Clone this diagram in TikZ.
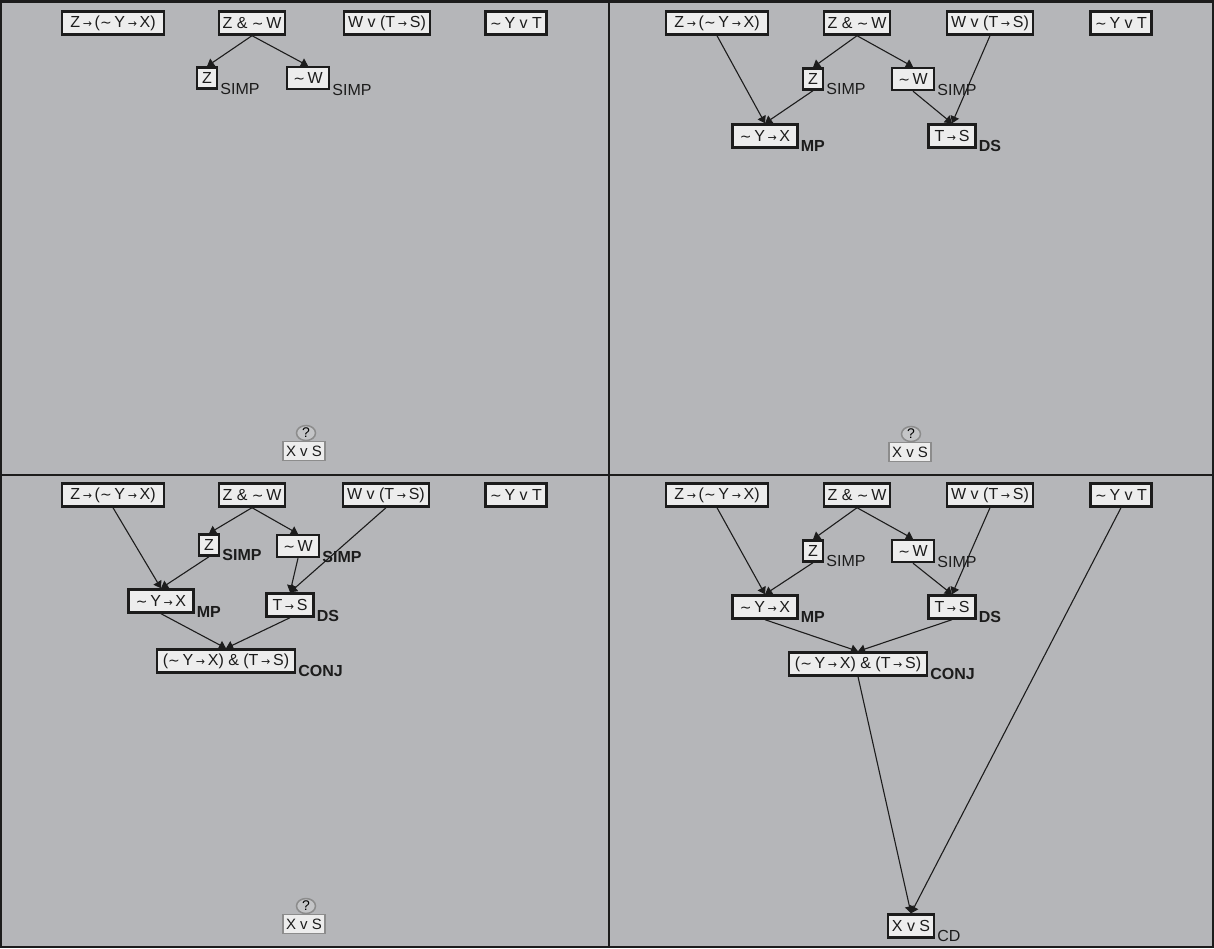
\documentclass[tikz,border=0pt]{standalone}
\usepackage{fontspec}
\setmainfont{Liberation Sans}
\newfontfamily\symf{DejaVu Sans}
\usetikzlibrary{arrows.meta,shapes.geometric}
\newcommand\rarr{\,{\symf\fontsize{11pt}{11pt}\selectfont →}\,}
\newcommand\tld{{\symf\fontsize{14pt}{14pt}\selectfont ∼}\,}
\definecolor{bg}{HTML}{B5B6B9}
\definecolor{nodefill}{HTML}{EDEDED}
\definecolor{ink}{HTML}{1C1C1C}
\definecolor{goalgray}{HTML}{8C8C8C}
\begin{document}
\begin{tikzpicture}[x=1pt,y=-1pt,
  prop/.style={draw=ink, line width=2.4pt, fill=nodefill, minimum height=23pt, inner sep=0pt, text=ink,
    font=\fontsize{16pt}{16pt}\selectfont},
  goalbox/.style={draw=goalgray, line width=1.8pt, fill=nodefill, minimum height=19pt, minimum width=42pt,
    inner sep=0pt, text=ink, font=\fontsize{15pt}{15pt}\selectfont},
  qmark/.style={ellipse, draw=goalgray, line width=1.5pt, fill=bg!80!white, minimum width=19pt, minimum height=15pt, inner sep=0pt,
    font=\fontsize{14pt}{14pt}\selectfont},
  lbl/.style={anchor=base west, inner sep=0pt, text=ink, font=\fontsize{16pt}{16pt}\selectfont},
  blbl/.style={lbl, font=\fontsize{16pt}{16pt}\selectfont\bfseries},
  conn/.style={draw=ink, line width=1.1pt, -{Triangle[length=7pt,width=9pt]}},
  wa/.style={minimum width=102pt}, wb/.style={minimum width=66pt},
  wc/.style={minimum width=86pt}, wd/.style={minimum width=61pt},
  wz/.style={minimum width=20pt, minimum height=21pt}, ww/.style={minimum width=42pt, minimum height=22pt},
  wm/.style={minimum width=65pt}, wt/.style={minimum width=47pt},
  wk/.style={minimum width=138pt}, wx/.style={minimum width=46pt}
]
\useasboundingbox (0,0) rectangle (1214,948);
\fill[bg] (0,0) rectangle (1214,948);
\draw[ink, line width=2.5pt] (1,1.5) rectangle (1213,947);
\draw[ink, line width=2pt] (608.5,0) -- (608.5,948);
\draw[ink, line width=2pt] (0,474.5) -- (1214,474.5);

% ---------------- Panel 1 ----------------
\node[prop,wa] (p1a) at (113,23) {Z\rarr(\tld Y\rarr X)};
\node[prop,wb] (p1b) at (252,23) {Z \& \tld W};
\node[prop,wc] (p1c) at (387,23) {W v (T\rarr S)};
\node[prop,wd] (p1d) at (516,23) {\tld Y v T};
\node[prop,wz] (p1z) at (207,78) {Z};
\node[prop,ww] (p1w) at (308,78) {\tld W};
\node[lbl] (p1zl) at ([shift={(2pt,-5pt)}]p1z.south east) {SIMP};
\node[lbl] (p1wl) at ([shift={(2pt,-5pt)}]p1w.south east) {SIMP};
\node[goalbox] (p1x) at (304,451) {X v S};
\node[qmark] (p1q) at (306,433) {?};
\draw[conn] (p1b.south) -- (p1z.north);
\draw[conn] (p1b.south) -- (p1w.north);

% ---------------- Panel 2 ----------------
\node[prop,wa] (p2a) at (717,23) {Z\rarr(\tld Y\rarr X)};
\node[prop,wb] (p2b) at (857,23) {Z \& \tld W};
\node[prop,wc] (p2c) at (990,23) {W v (T\rarr S)};
\node[prop,wd] (p2d) at (1121,23) {\tld Y v T};
\node[prop,wz] (p2z) at (813,79) {Z};
\node[prop,ww] (p2w) at (913,79) {\tld W};
\node[lbl] (p2zl) at ([shift={(2pt,-4pt)}]p2z.south east) {SIMP};
\node[lbl] (p2wl) at ([shift={(2pt,-4pt)}]p2w.south east) {SIMP};
\node[prop,wm] (p2m) at (765,136) {\tld Y\rarr X};
\node[prop,wt] (p2t) at (952,136) {T\rarr S};
\node[blbl] (p2ml) at ([shift={(2pt,-3pt)}]p2m.south east) {MP};
\node[blbl] (p2tl) at ([shift={(2pt,-3pt)}]p2t.south east) {DS};
\node[goalbox] (p2x) at (910,452) {X v S};
\node[qmark] (p2q) at (911,434) {?};
\draw[conn] (p2b.south) -- (p2z.north);
\draw[conn] (p2b.south) -- (p2w.north);
\draw[conn] (p2a.south) -- (p2m.north);
\draw[conn] (p2z.south) -- (p2m.north);
\draw[conn] (p2w.south) -- (p2t.north);
\draw[conn] (p2c.south) -- (p2t.north);

% ---------------- Panel 3 ----------------
\node[prop,wa] (p3a) at (113,495) {Z\rarr(\tld Y\rarr X)};
\node[prop,wb] (p3b) at (252,495) {Z \& \tld W};
\node[prop,wc] (p3c) at (386,495) {W v (T\rarr S)};
\node[prop,wd] (p3d) at (516,495) {\tld Y v T};
\node[prop,wz] (p3z) at (209,545) {Z};
\node[prop,ww] (p3w) at (298,546) {\tld W};
\node[blbl] (p3zl) at ([shift={(2pt,-4pt)}]p3z.south east) {SIMP};
\node[blbl] (p3wl) at ([shift={(2pt,-4pt)}]p3w.south east) {SIMP};
\node[prop,wm] (p3m) at (161,601) {\tld Y\rarr X};
\node[prop,wt] (p3t) at (290,605) {T\rarr S};
\node[blbl] (p3ml) at ([shift={(2pt,-4pt)}]p3m.south east) {MP};
\node[blbl] (p3tl) at ([shift={(2pt,-4pt)}]p3t.south east) {DS};
\node[prop,wk] (p3k) at (226,661) {(\tld Y\rarr X) \& (T\rarr S)};
\node[blbl] (p3kl) at ([shift={(2pt,-3pt)}]p3k.south east) {CONJ};
\node[goalbox] (p3x) at (304,924) {X v S};
\node[qmark] (p3q) at (306,906) {?};
\draw[conn] (p3b.south) -- (p3z.north);
\draw[conn] (p3b.south) -- (p3w.north);
\draw[conn] (p3a.south) -- (p3m.north);
\draw[conn] (p3z.south) -- (p3m.north);
\draw[conn] (p3w.south) -- (p3t.north);
\draw[conn] (p3c.south) -- (p3t.north);
\draw[conn] (p3m.south) -- (p3k.north);
\draw[conn] (p3t.south) -- (p3k.north);

% ---------------- Panel 4 ----------------
\node[prop,wa] (p4a) at (717,495) {Z\rarr(\tld Y\rarr X)};
\node[prop,wb] (p4b) at (857,495) {Z \& \tld W};
\node[prop,wc] (p4c) at (990,495) {W v (T\rarr S)};
\node[prop,wd] (p4d) at (1121,495) {\tld Y v T};
\node[prop,wz] (p4z) at (813,551) {Z};
\node[prop,ww] (p4w) at (913,551) {\tld W};
\node[lbl] (p4zl) at ([shift={(2pt,-4pt)}]p4z.south east) {SIMP};
\node[lbl] (p4wl) at ([shift={(2pt,-4pt)}]p4w.south east) {SIMP};
\node[prop,wm] (p4m) at (765,607) {\tld Y\rarr X};
\node[prop,wt] (p4t) at (952,607) {T\rarr S};
\node[blbl] (p4ml) at ([shift={(2pt,-3pt)}]p4m.south east) {MP};
\node[blbl] (p4tl) at ([shift={(2pt,-3pt)}]p4t.south east) {DS};
\node[prop,wk] (p4k) at (858,664) {(\tld Y\rarr X) \& (T\rarr S)};
\node[blbl] (p4kl) at ([shift={(2pt,-3pt)}]p4k.south east) {CONJ};
\node[prop,wx] (p4x) at (911,926) {X v S};
\node[lbl] (p4xl) at ([shift={(2pt,-3pt)}]p4x.south east) {CD};
\draw[conn] (p4b.south) -- (p4z.north);
\draw[conn] (p4b.south) -- (p4w.north);
\draw[conn] (p4a.south) -- (p4m.north);
\draw[conn] (p4z.south) -- (p4m.north);
\draw[conn] (p4w.south) -- (p4t.north);
\draw[conn] (p4c.south) -- (p4t.north);
\draw[conn] (p4m.south) -- (p4k.north);
\draw[conn] (p4t.south) -- (p4k.north);
\draw[conn] (p4k.south) -- (p4x.north);
\draw[conn] (p4d.south) -- (p4x.north);
\end{tikzpicture}
\end{document}
